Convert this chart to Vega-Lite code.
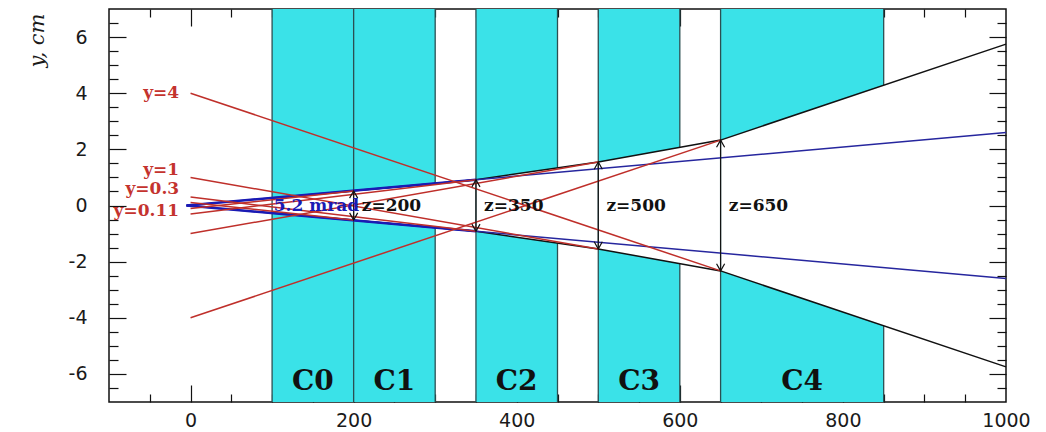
{
  "$schema": "https://vega.github.io/schema/vega-lite/v6.json",
  "width": 897,
  "height": 393,
  "autosize": {"type": "none"},
  "padding": {"left": 109, "top": 9, "right": 40, "bottom": 30},
  "background": "white",
  "config": {
    "view": {"stroke": "#111", "strokeWidth": 1.5},
    "axis": {"grid": false, "domain": false}
  },
  "datasets": {
    "areas": [
      {"piece": "C0t", "x": 100, "lo": 0.26, "hi": 7}, {"piece": "C0t", "x": 200, "lo": 0.52, "hi": 7},
      {"piece": "C0b", "x": 100, "lo": -7, "hi": -0.26}, {"piece": "C0b", "x": 200, "lo": -7, "hi": -0.52},
      {"piece": "C1t", "x": 200, "lo": 0.52, "hi": 7}, {"piece": "C1t", "x": 300, "lo": 0.78, "hi": 7},
      {"piece": "C1b", "x": 200, "lo": -7, "hi": -0.52}, {"piece": "C1b", "x": 300, "lo": -7, "hi": -0.78},
      {"piece": "C2t", "x": 350, "lo": 0.92, "hi": 7}, {"piece": "C2t", "x": 450, "lo": 1.34, "hi": 7},
      {"piece": "C2b", "x": 350, "lo": -7, "hi": -0.92}, {"piece": "C2b", "x": 450, "lo": -7, "hi": -1.34},
      {"piece": "C3t", "x": 500, "lo": 1.55, "hi": 7}, {"piece": "C3t", "x": 600, "lo": 2.07, "hi": 7},
      {"piece": "C3b", "x": 500, "lo": -7, "hi": -1.55}, {"piece": "C3b", "x": 600, "lo": -7, "hi": -2.07},
      {"piece": "C4t", "x": 650, "lo": 2.33, "hi": 7}, {"piece": "C4t", "x": 850, "lo": 4.28, "hi": 7},
      {"piece": "C4b", "x": 650, "lo": -7, "hi": -2.33}, {"piece": "C4b", "x": 850, "lo": -7, "hi": -4.28}
    ],
    "edges": [
      {"x": 100, "lo": -7, "hi": 7}, {"x": 200, "lo": -7, "hi": 7}, {"x": 350, "lo": -7, "hi": 7},
      {"x": 500, "lo": -7, "hi": 7}, {"x": 650, "lo": -7, "hi": 7},
      {"x": 300, "lo": 0.78, "hi": 7}, {"x": 300, "lo": -7, "hi": -0.78},
      {"x": 450, "lo": 1.34, "hi": 7}, {"x": 450, "lo": -7, "hi": -1.34},
      {"x": 600, "lo": 2.07, "hi": 7}, {"x": 600, "lo": -7, "hi": -2.07},
      {"x": 850, "lo": 4.28, "hi": 7}, {"x": 850, "lo": -7, "hi": -4.28}
    ],
    "envelope": [
      {"id": "up", "x": 100, "y": 0.26}, {"id": "up", "x": 350, "y": 0.92}, {"id": "up", "x": 500, "y": 1.55},
      {"id": "up", "x": 650, "y": 2.33}, {"id": "up", "x": 1000, "y": 5.75},
      {"id": "dn", "x": 100, "y": -0.26}, {"id": "dn", "x": 350, "y": -0.92}, {"id": "dn", "x": 500, "y": -1.55},
      {"id": "dn", "x": 650, "y": -2.33}, {"id": "dn", "x": 1000, "y": -5.75}
    ],
    "bluethin": [
      {"id": "u", "x": -5, "y": 0}, {"id": "u", "x": 1000, "y": 2.6},
      {"id": "d", "x": -5, "y": 0}, {"id": "d", "x": 1000, "y": -2.6}
    ],
    "bluethick": [
      {"id": "u", "x": -5, "y": 0}, {"id": "u", "x": 350, "y": 0.92},
      {"id": "d", "x": -5, "y": 0}, {"id": "d", "x": 350, "y": -0.92}
    ],
    "rays": [
      {"id": "r1", "x": 0, "y": 4}, {"id": "r1", "x": 650, "y": -2.33},
      {"id": "r2", "x": 0, "y": -4}, {"id": "r2", "x": 650, "y": 2.33},
      {"id": "r3", "x": 0, "y": 1}, {"id": "r3", "x": 500, "y": -1.55},
      {"id": "r4", "x": 0, "y": -1}, {"id": "r4", "x": 500, "y": 1.55},
      {"id": "r5", "x": 0, "y": 0.3}, {"id": "r5", "x": 350, "y": -0.92},
      {"id": "r6", "x": 0, "y": -0.3}, {"id": "r6", "x": 350, "y": 0.92},
      {"id": "r7", "x": 0, "y": 0.11}, {"id": "r7", "x": 200, "y": -0.52},
      {"id": "r8", "x": 0, "y": -0.11}, {"id": "r8", "x": 200, "y": 0.52}
    ],
    "arrows": [
      {"z": 200, "lo": -0.52, "hi": 0.52}, {"z": 350, "lo": -0.92, "hi": 0.92},
      {"z": 500, "lo": -1.55, "hi": 1.55}, {"z": 650, "lo": -2.33, "hi": 2.33}
    ],
    "heads": [
      {"z": 200, "y": 0.52, "dir": "up"}, {"z": 200, "y": -0.52, "dir": "down"},
      {"z": 350, "y": 0.92, "dir": "up"}, {"z": 350, "y": -0.92, "dir": "down"},
      {"z": 500, "y": 1.55, "dir": "up"}, {"z": 500, "y": -1.55, "dir": "down"},
      {"z": 650, "y": 2.33, "dir": "up"}, {"z": 650, "y": -2.33, "dir": "down"}
    ],
    "labels": [
      {"kind": "red", "text": "y=4", "x": -14, "y": 4.0},
      {"kind": "red", "text": "y=1", "x": -14, "y": 1.25},
      {"kind": "red", "text": "y=0.3", "x": -14, "y": 0.6},
      {"kind": "red", "text": "y=0.11", "x": -14, "y": -0.2},
      {"kind": "blue", "text": "5.2 mrad", "x": 102, "y": 0},
      {"kind": "z", "text": "z=200", "x": 210, "y": 0},
      {"kind": "z", "text": "z=350", "x": 360, "y": 0},
      {"kind": "z", "text": "z=500", "x": 510, "y": 0},
      {"kind": "z", "text": "z=650", "x": 660, "y": 0},
      {"kind": "c", "text": "C0", "x": 150, "y": -6.3},
      {"kind": "c", "text": "C1", "x": 250, "y": -6.3},
      {"kind": "c", "text": "C2", "x": 400, "y": -6.3},
      {"kind": "c", "text": "C3", "x": 550, "y": -6.3},
      {"kind": "c", "text": "C4", "x": 750, "y": -6.3}
    ]
  },
  "resolve": {"axis": {"x": "independent", "y": "independent"}},
  "layer": [
    {
      "data": {"name": "areas"},
      "mark": {"type": "area", "color": "#3ae2e8", "opacity": 1},
      "encoding": {
        "x": {"field": "x", "type": "quantitative", "scale": {"domain": [-100, 1000], "nice": false, "zero": false},
          "axis": {"orient": "bottom", "values": [0, 200, 400, 600, 800, 1000], "ticks": false, "labelPadding": 9,
            "labelExpr": "'' + datum.value",
            "labelFont": "DejaVu Sans", "labelFontSize": 19, "labelColor": "#1a1a1a", "labelFlush": false, "title": null}},
        "y": {"field": "lo", "type": "quantitative", "scale": {"domain": [-7, 7], "nice": false, "zero": false},
          "axis": {"orient": "left", "values": [-6, -4, -2, 0, 2, 4, 6], "ticks": false, "labelPadding": 22,
            "labelExpr": "'' + datum.value",
            "labelFont": "DejaVu Sans", "labelFontSize": 19, "labelColor": "#1a1a1a", "labelFlush": false,
            "title": "y, cm", "titleFont": "DejaVu Serif", "titleFontStyle": "italic", "titleFontWeight": "normal",
            "titleFontSize": 21, "titleColor": "#1a1a1a", "titleAngle": -90, "titleX": -72, "titleY": 4,
            "titleAlign": "right", "titleBaseline": "middle"}},
        "y2": {"field": "hi"},
        "detail": {"field": "piece"}
      }
    },
    {
      "data": {"name": "edges"},
      "mark": {"type": "rule", "color": "#2b4f52", "strokeWidth": 1.3},
      "encoding": {
        "x": {"field": "x", "type": "quantitative",
          "axis": {"orient": "bottom", "values": [-50, 0, 50, 100, 150, 200, 250, 300, 350, 400, 450, 500, 550, 600, 650, 700, 750, 800, 850, 900, 950],
            "labels": false, "tickColor": "#111", "tickWidth": 1.2,
            "tickSize": {"condition": {"test": "datum.value % 200 === 0", "value": -17}, "value": -8}, "title": null}},
        "y": {"field": "lo", "type": "quantitative",
          "axis": {"orient": "left", "values": [-6.5, -6, -5.5, -5, -4.5, -4, -3.5, -3, -2.5, -2, -1.5, -1, -0.5, 0, 0.5, 1, 1.5, 2, 2.5, 3, 3.5, 4, 4.5, 5, 5.5, 6, 6.5],
            "labels": false, "tickColor": "#111", "tickWidth": 1.2,
            "tickSize": {"condition": {"test": "datum.value % 2 === 0", "value": -17}, "value": -9}, "title": null}},
        "y2": {"field": "hi"}
      }
    },
    {
      "data": {"name": "envelope"},
      "mark": {"type": "line", "color": "#111", "strokeWidth": 1.5},
      "encoding": {
        "x": {"field": "x", "type": "quantitative",
          "axis": {"orient": "top", "values": [-50, 0, 50, 100, 150, 200, 250, 300, 350, 400, 450, 500, 550, 600, 650, 700, 750, 800, 850, 900, 950],
            "labels": false, "tickColor": "#111", "tickWidth": 1.2,
            "tickSize": {"condition": {"test": "datum.value % 200 === 0", "value": -17}, "value": -8}, "title": null}},
        "y": {"field": "y", "type": "quantitative",
          "axis": {"orient": "right", "values": [-6.5, -6, -5.5, -5, -4.5, -4, -3.5, -3, -2.5, -2, -1.5, -1, -0.5, 0, 0.5, 1, 1.5, 2, 2.5, 3, 3.5, 4, 4.5, 5, 5.5, 6, 6.5],
            "labels": false, "tickColor": "#111", "tickWidth": 1.2,
            "tickSize": {"condition": {"test": "datum.value % 2 === 0", "value": -17}, "value": -9}, "title": null}},
        "detail": {"field": "id"}
      }
    },
    {
      "data": {"name": "bluethin"},
      "mark": {"type": "line", "color": "#26269e", "strokeWidth": 1.5},
      "encoding": {
        "x": {"field": "x", "type": "quantitative", "axis": null},
        "y": {"field": "y", "type": "quantitative", "axis": null},
        "detail": {"field": "id"}
      }
    },
    {
      "data": {"name": "bluethick"},
      "mark": {"type": "line", "color": "#1a1ab4", "strokeWidth": 2.6},
      "encoding": {
        "x": {"field": "x", "type": "quantitative", "axis": null},
        "y": {"field": "y", "type": "quantitative", "axis": null},
        "detail": {"field": "id"}
      }
    },
    {
      "data": {"name": "rays"},
      "mark": {"type": "line", "color": "#bf2f2a", "strokeWidth": 1.5},
      "encoding": {
        "x": {"field": "x", "type": "quantitative", "axis": null},
        "y": {"field": "y", "type": "quantitative", "axis": null},
        "detail": {"field": "id"}
      }
    },
    {
      "data": {"name": "arrows"},
      "mark": {"type": "rule", "color": "#111", "strokeWidth": 1.1},
      "encoding": {
        "x": {"field": "z", "type": "quantitative", "axis": null},
        "y": {"field": "lo", "type": "quantitative", "axis": null},
        "y2": {"field": "hi"}
      }
    },
    {
      "data": {"name": "heads"},
      "mark": {"type": "point", "filled": false, "stroke": "#111", "strokeWidth": 1.2, "size": 81, "opacity": 1},
      "encoding": {
        "x": {"field": "z", "type": "quantitative", "axis": null},
        "y": {"field": "y", "type": "quantitative", "axis": null},
        "shape": {"field": "dir", "type": "nominal", "legend": null,
          "scale": {"domain": ["up", "down"], "range": ["M-0.9,1.6L0,0L0.9,1.6", "M-0.9,-1.6L0,0L0.9,-1.6"]}}
      }
    },
    {
      "data": {"name": "labels"},
      "transform": [{"filter": "datum.kind === 'red'"}],
      "mark": {"type": "text", "align": "right", "baseline": "middle", "font": "DejaVu Serif", "fontWeight": "bold", "fontSize": 17, "color": "#c4332e"},
      "encoding": {
        "x": {"field": "x", "type": "quantitative", "axis": null},
        "y": {"field": "y", "type": "quantitative", "axis": null},
        "text": {"field": "text"}
      }
    },
    {
      "data": {"name": "labels"},
      "transform": [{"filter": "datum.kind === 'blue'"}],
      "mark": {"type": "text", "align": "left", "baseline": "middle", "font": "DejaVu Serif", "fontWeight": "bold", "fontSize": 17, "color": "#1a1ab4"},
      "encoding": {
        "x": {"field": "x", "type": "quantitative", "axis": null},
        "y": {"field": "y", "type": "quantitative", "axis": null},
        "text": {"field": "text"}
      }
    },
    {
      "data": {"name": "labels"},
      "transform": [{"filter": "datum.kind === 'z'"}],
      "mark": {"type": "text", "align": "left", "baseline": "middle", "font": "DejaVu Serif", "fontWeight": "bold", "fontSize": 17, "color": "#111"},
      "encoding": {
        "x": {"field": "x", "type": "quantitative", "axis": null},
        "y": {"field": "y", "type": "quantitative", "axis": null},
        "text": {"field": "text"}
      }
    },
    {
      "data": {"name": "labels"},
      "transform": [{"filter": "datum.kind === 'c'"}],
      "mark": {"type": "text", "align": "center", "baseline": "middle", "font": "DejaVu Serif", "fontWeight": "bold", "fontSize": 28, "color": "#111"},
      "encoding": {
        "x": {"field": "x", "type": "quantitative", "axis": null},
        "y": {"field": "y", "type": "quantitative", "axis": null},
        "text": {"field": "text"}
      }
    }
  ]
}
